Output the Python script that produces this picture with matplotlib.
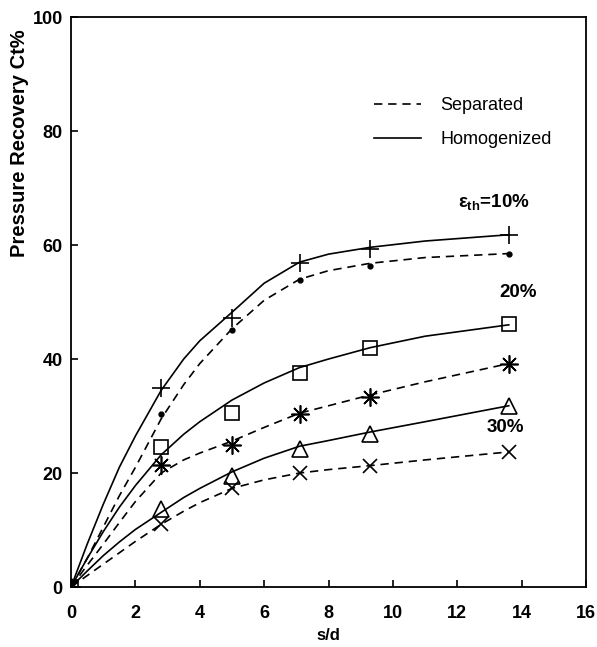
import matplotlib
matplotlib.use("Agg")
from matplotlib import pyplot as plt
from matplotlib.lines import Line2D

plt.rcParams['font.family'] = ['Liberation Sans', 'DejaVu Sans']
plt.rcParams['mathtext.fontset'] = 'custom'
plt.rcParams['mathtext.rm'] = 'Liberation Sans:bold'
plt.rcParams['mathtext.it'] = 'Liberation Sans:bold'

# measured points
s_d = [0, 2.8, 5.0, 7.1, 9.3, 13.6]
hom_10 = [0, 35.0, 47.2, 56.9, 59.3, 61.7]
sep_10 = [0, 30.4, 45.1, 53.9, 56.3, 58.4]
hom_20 = [0, 24.6, 30.6, 37.6, 41.9, 46.1]
sep_20 = [0, 21.4, 24.9, 30.4, 33.4, 39.1]
hom_30 = [0, 13.7, 19.4, 24.3, 26.9, 31.7]
sep_30 = [0, 11.1, 17.4, 20.0, 21.2, 23.7]

# fitted curves
curve_x = [0, 0.5, 1, 1.5, 2, 2.8, 3.5, 4, 5, 6, 7.1, 8, 9.3, 11, 13.6]
hom_10_fit = [0, 7.5, 14.5, 21.0, 26.5, 34.5, 40.0, 43.2, 48.2, 53.3, 57.0, 58.4, 59.6, 60.7, 61.8]
sep_10_fit = [0, 5.0, 10.5, 16.0, 21.0, 29.5, 35.5, 39.2, 45.3, 50.3, 54.0, 55.5, 56.8, 57.8, 58.5]
hom_20_fit = [0, 5.0, 9.7, 14.0, 17.8, 23.2, 26.8, 29.0, 32.8, 35.8, 38.5, 40.0, 42.0, 44.0, 46.0]
sep_20_fit = [0, 3.8, 7.5, 11.3, 15.0, 20.0, 22.3, 23.5, 25.6, 28.0, 30.5, 31.8, 33.7, 36.0, 39.2]
hom_30_fit = [0, 2.8, 5.5, 7.9, 10.1, 13.1, 15.7, 17.3, 20.2, 22.6, 24.7, 25.7, 27.2, 29.0, 31.8]
sep_30_fit = [0, 2.0, 4.0, 6.0, 8.0, 11.0, 13.3, 14.8, 17.3, 18.8, 20.0, 20.6, 21.3, 22.3, 23.7]

x_ticks = [0, 2, 4, 6, 8, 10, 12, 14, 16]
y_ticks = [0, 20, 40, 60, 80, 100]

fig = plt.figure(figsize=(5.97, 6.47), dpi=100)
ax = fig.add_axes([0.119, 0.0927, 0.8626, 0.881])

dash = [5, 3.5]
lw = 1.2
for fit, ls in [(hom_10_fit, '-'), (sep_10_fit, '--'), (hom_20_fit, '-'),
                (sep_20_fit, '--'), (hom_30_fit, '-'), (sep_30_fit, '--')]:
    ln, = ax.plot(curve_x, fit, color='black', lw=lw, ls=ls)
    if ls == '--':
        ln.set_dashes(dash)

mk = dict(color='black', ls='none', markerfacecolor='none', markeredgewidth=1.2)
ax.plot(s_d, hom_10, marker='+', markersize=13, **mk)
ax.plot(s_d, sep_10, marker='o', markersize=3.5, color='black', ls='none')
ax.plot(s_d, hom_20, marker='s', markersize=10, **mk)
ax.plot(s_d, sep_20, marker=(8, 2, 0), markersize=13, **mk)
ax.plot(s_d, hom_30, marker='^', markersize=11, **mk)
ax.plot(s_d, sep_30, marker='x', markersize=10, **mk)

ax.set_xlim(0, 16)
ax.set_ylim(0, 100)
ax.set_xticks(x_ticks)
ax.set_yticks(y_ticks)
ax.tick_params(direction='in', length=5, width=1.2, labelsize=13)
ax.tick_params(axis='x', pad=13)
ax.tick_params(axis='y', pad=6)
for lab in ax.get_xticklabels() + ax.get_yticklabels():
    lab.set_fontweight('bold')
for sp in ax.spines.values():
    sp.set_linewidth(1.3)

ax.set_xlabel('s/d', fontsize=12, fontweight='bold', labelpad=4)
ax.set_ylabel('Pressure Recovery Ct%', fontsize=14.5, fontweight='bold')
ax.yaxis.set_label_coords(-0.082, 0.779)

h_sep = Line2D([], [], color='black', lw=lw, ls='--', dashes=dash)
h_hom = Line2D([], [], color='black', lw=lw)
ax.legend([h_sep, h_hom], ['Separated', 'Homogenized'], loc='upper left',
          bbox_to_anchor=(0.556, 0.888), frameon=False, handlelength=2.6,
          handletextpad=1.1, labelspacing=0.95, prop={'size': 13})

ax.text(14.25, 67.5, r'$\epsilon_{\mathrm{th}}$=10%', fontsize=13.5,
        fontweight='bold', ha='right', va='center')
ax.text(13.9, 51.6, '20%', fontsize=13.5, fontweight='bold', ha='center', va='center')
ax.text(13.5, 27.9, '30%', fontsize=13.5, fontweight='bold', ha='center', va='center')

fig.savefig('out.png', dpi=100)
